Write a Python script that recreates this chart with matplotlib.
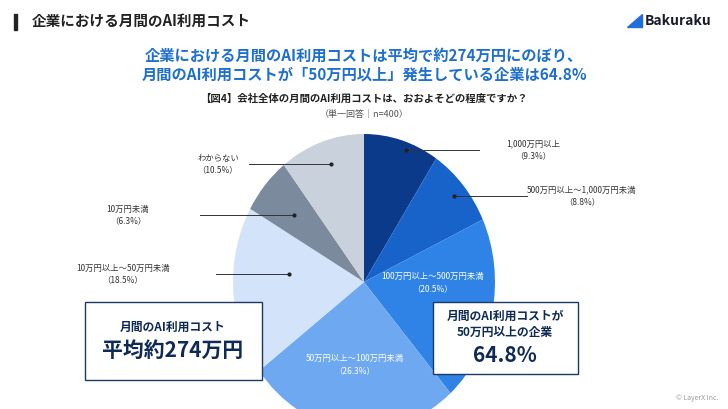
import matplotlib.pyplot as plt
from matplotlib.patches import Rectangle, Polygon

plt.rcParams['font.family'] = ['Noto Sans CJK JP', 'DejaVu Sans']

labels = ['1,000万円以上', '500万円以上～1,000万円未満', '100万円以上～500万円未満',
          '50万円以上～100万円未満', '10万円以上～50万円未満', '10万円未満', 'わからない']
values = [9.3, 8.8, 20.5, 26.3, 18.5, 6.3, 10.5]
colors = ['#0b3a8a', '#1863c9', '#2f83e6', '#6ea8f1', '#d3e3f9', '#7b8a9c', '#c9d1dc']

W, H = 728, 409
fig = plt.figure(figsize=(7.28, 4.09), dpi=100)

# pie axes: slightly stretched vertically as in the slide
cx, cy, rx, ry = 364, 282, 131, 148
pax = fig.add_axes([0, 0, 1, 1])
pax.pie(values, colors=colors, startangle=90, counterclock=False, center=(0, 0),
        radius=1, frame=True, wedgeprops=dict(linewidth=0))
pax.set_aspect('auto')
pax.set_xlim(-cx / rx, (W - cx) / rx)
pax.set_ylim(-(H - cy) / ry, cy / ry)
pax.axis('off')

ax = fig.add_axes([0, 0, 1, 1])
ax.set_xlim(0, W)
ax.set_ylim(0, H)
ax.axis('off')
ax.patch.set_alpha(0)

def Y(y):
    return H - y

# header
ax.add_patch(Rectangle((14, Y(30)), 3, 16, color='#222222'))
ax.text(32, Y(21), '企業における月間のAI利用コスト', fontsize=10.5, fontweight='bold',
        va='center', color='#222222')
ax.add_patch(Polygon([(627, Y(27)), (642, Y(27)), (642, Y(14))], color='#1e6fd9'))
ax.text(645, Y(21), 'Bakuraku', fontsize=10, fontweight='bold', va='center', color='#1a1a2e')

ax.text(364, Y(56), '企業における月間のAI利用コストは平均で約274万円にのぼり、', fontsize=11,
        fontweight='bold', color='#1f6fcf', ha='center', va='center')
ax.text(364, Y(75), '月間のAI利用コストが「50万円以上」発生している企業は64.8%', fontsize=11,
        fontweight='bold', color='#1f6fcf', ha='center', va='center')
ax.text(364, Y(99), '【図4】会社全体の月間のAI利用コストは、おおよそどの程度ですか？', fontsize=7.5,
        fontweight='bold', color='#222222', ha='center', va='center')
ax.text(364, Y(114), '（単一回答｜n=400）', fontsize=6.5, color='#555555', ha='center', va='center')

def outer(i, tx, ty, x0, x1, dot, ha='center'):
    ax.text(tx, Y(ty), labels[i], fontsize=6, color='#333333', ha=ha, va='center')
    ax.text(tx, Y(ty + 12), f'（{values[i]}%）', fontsize=6, color='#333333', ha=ha, va='center')
    ax.plot([x0, x1], [Y(ty + 6), Y(ty + 6)], color='#333333', lw=0.7)
    ax.plot([dot], [Y(ty + 6)], 'o', color='#222222', ms=2)

outer(0, 533, 144, 406, 479, 406)
outer(1, 582, 190, 454, 527, 454)
outer(6, 218, 158, 249, 331, 331)
outer(5, 128, 209, 200, 294, 294)
outer(4, 123, 268, 216, 289, 289)

for i, (tx, ty) in [(2, (433, 276)), (3, (355, 358))]:
    ax.text(tx, Y(ty), labels[i], fontsize=6, color='white', ha='center', va='center')
    ax.text(tx, Y(ty + 13), f'（{values[i]}%）', fontsize=6, color='white', ha='center', va='center')

# boxes
ax.add_patch(Rectangle((85, Y(380)), 177, 78, facecolor='white', edgecolor='#1b3a66', lw=1))
ax.text(173, Y(327), '月間のAI利用コスト', fontsize=8.5, fontweight='bold', color='#0e2a55',
        ha='center', va='center')
ax.text(173, Y(350), '平均約274万円', fontsize=15, fontweight='bold', color='#0e2a55',
        ha='center', va='center')
ax.add_patch(Rectangle((433, Y(374)), 145, 72, facecolor='white', edgecolor='#1b3a66', lw=1))
ax.text(505, Y(316), '月間のAI利用コストが', fontsize=8.5, fontweight='bold', color='#0e2a55',
        ha='center', va='center')
ax.text(505, Y(332), '50万円以上の企業', fontsize=8.5, fontweight='bold', color='#0e2a55',
        ha='center', va='center')
ax.text(505, Y(355), '64.8%', fontsize=15, fontweight='bold', color='#0e2a55',
        ha='center', va='center')

ax.text(718, Y(398), '© LayerX Inc.', fontsize=5, color='#999999', ha='right', va='center')

fig.savefig('out.png', dpi=100, facecolor='white')
